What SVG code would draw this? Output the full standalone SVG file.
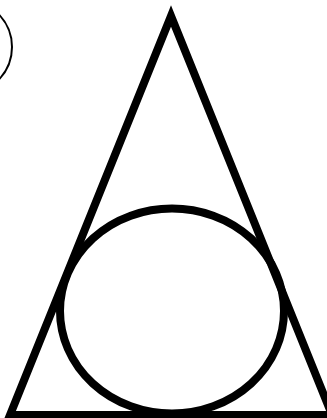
<svg xmlns="http://www.w3.org/2000/svg" width="327" height="418" viewBox="0 0 327 418">
<style>
.thick{fill:none;stroke:#000;stroke-width:8;stroke-linejoin:miter;stroke-miterlimit:20}
.thin{fill:none;stroke:#000;stroke-width:2}
</style>
<rect width="327" height="418" fill="#fff"/>
<g id="circle"><circle class="thin" cx="-35" cy="47" r="47"/></g>
<g id="triangle"><polygon class="thick" points="171,16 10,415 332,415"/></g>
<g id="ellipse"><ellipse class="thick" cx="172" cy="311" rx="112" ry="102.5"/></g>
<g id="connectors"></g>
</svg>
